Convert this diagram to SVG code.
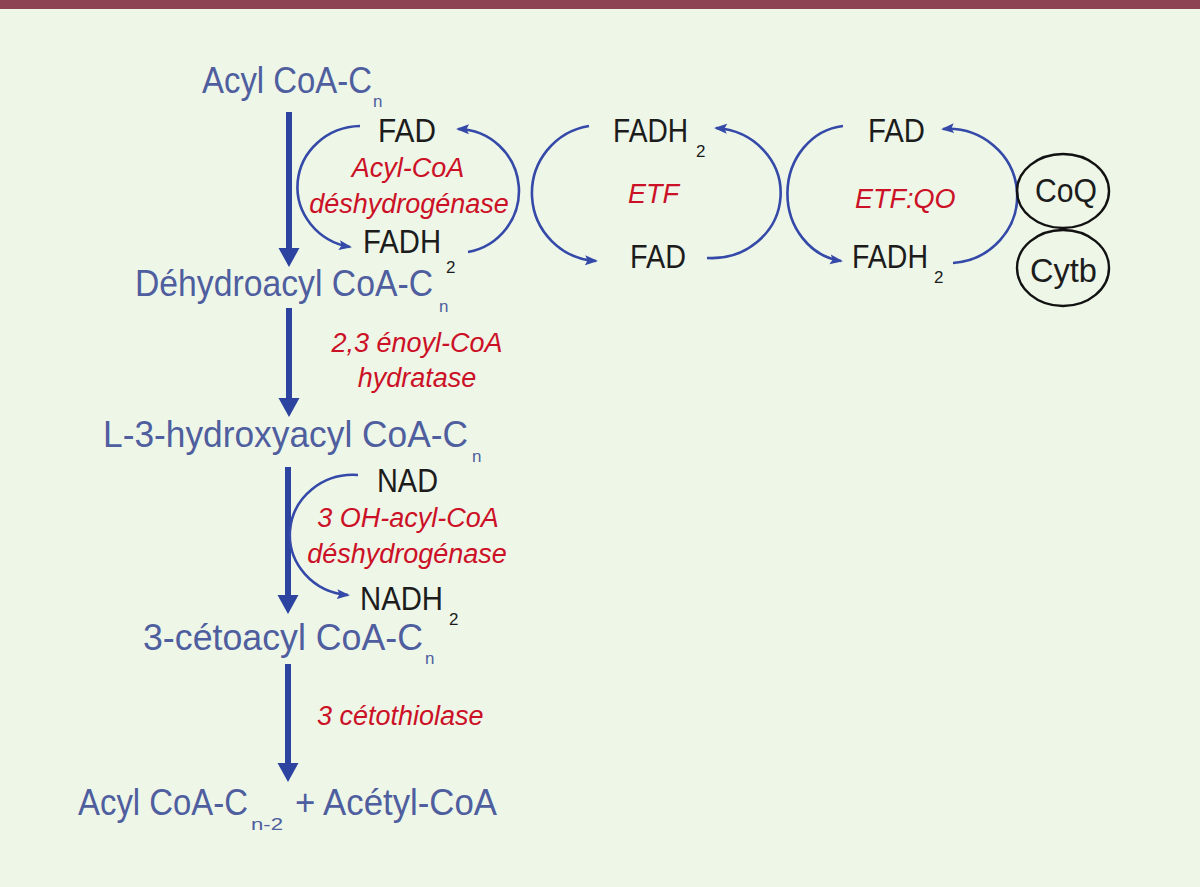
<svg xmlns="http://www.w3.org/2000/svg" width="1200" height="887" viewBox="0 0 1200 887">
<style>
.bl{font-family:"Liberation Sans",Arial,sans-serif;font-size:36px;fill:#4F5E9E}
.bk{font-family:"Liberation Sans",Arial,sans-serif;font-size:33px;fill:#1C1C1C}
.sub{font-size:17px}
.rd{font-family:"Liberation Sans",Arial,sans-serif;font-size:27px;font-style:italic;fill:#CC1126}
.main{stroke:#2C43A0;stroke-width:6;fill:none}
.cyc{stroke:#3449A8;stroke-width:2.6;fill:none}
.ell{stroke:#111;stroke-width:2.4;fill:none}
</style>
<defs>
<marker id="big" markerUnits="userSpaceOnUse" markerWidth="20" markerHeight="22" refX="0" refY="10.5" orient="auto" viewBox="0 0 20 21">
<path d="M0,0 L19,10.5 L0,21 z" fill="#2C43A0"/>
</marker>
<marker id="sm" markerUnits="userSpaceOnUse" markerWidth="14" markerHeight="12" refX="11" refY="5" orient="auto" viewBox="0 0 14 10">
<path d="M0,0 L13,5 L0,10 L2.5,5 z" fill="#3449A8"/>
</marker>
</defs>
<rect x="0" y="0" width="1200" height="887" fill="#EEF6E8"/>
<rect x="0" y="0" width="1200" height="9" fill="#8D4352"/>

<g id="connectors">
<line class="main" x1="289" y1="112" x2="289" y2="248" marker-end="url(#big)"/>
<line class="main" x1="289" y1="308" x2="289" y2="398" marker-end="url(#big)"/>
<line class="main" x1="288" y1="467" x2="288" y2="595" marker-end="url(#big)"/>
<line class="main" x1="288" y1="664" x2="288" y2="763" marker-end="url(#big)"/>
<path class="cyc" d="M360,126 A64,61 0 0 0 350,247" marker-end="url(#sm)"/>
<path class="cyc" d="M468,252 A62,62 0 0 0 458,129" marker-end="url(#sm)"/>
<path class="cyc" d="M589,126 A68,68 0 0 0 596,261" marker-end="url(#sm)"/>
<path class="cyc" d="M707,258 A69,65 0 0 0 716,128" marker-end="url(#sm)"/>
<path class="cyc" d="M843,126 A62,68 0 0 0 841,261" marker-end="url(#sm)"/>
<path class="cyc" d="M953,263 A69,67 0 0 0 943,129" marker-end="url(#sm)"/>
<path class="cyc" d="M358,475 A63,60 0 0 0 348,595" marker-end="url(#sm)"/>
</g>

<g id="acylcoa">
<text class="bl" x="202" y="93"><tspan textLength="170" lengthAdjust="spacingAndGlyphs">Acyl CoA-C</tspan><tspan class="sub" dx="1" dy="14">n</tspan></text>
</g>
<g id="dehydroacyl">
<text class="bl" x="135" y="296"><tspan textLength="298" lengthAdjust="spacingAndGlyphs">Déhydroacyl CoA-C</tspan><tspan class="sub" dx="6" dy="16">n</tspan></text>
</g>
<g id="hydroxyacyl">
<text class="bl" x="103" y="447"><tspan textLength="365" lengthAdjust="spacingAndGlyphs">L-3-hydroxyacyl CoA-C</tspan><tspan class="sub" dx="4" dy="15">n</tspan></text>
</g>
<g id="cetoacyl">
<text class="bl" x="143" y="650"><tspan textLength="280" lengthAdjust="spacingAndGlyphs">3-cétoacyl CoA-C</tspan><tspan class="sub" dx="2" dy="14">n</tspan></text>
</g>
<g id="products">
<text class="bl" x="78" y="815"><tspan textLength="170" lengthAdjust="spacingAndGlyphs">Acyl CoA-C</tspan><tspan class="sub" dx="3" dy="15" textLength="32" lengthAdjust="spacingAndGlyphs">n-2</tspan><tspan x="295" y="815" textLength="202" lengthAdjust="spacingAndGlyphs">+ Acétyl-CoA</tspan></text>
</g>

<g id="fad1"><text class="bk" x="378" y="142" textLength="58" lengthAdjust="spacingAndGlyphs">FAD</text></g>
<g id="fadh2-1"><text class="bk" x="363" y="253"><tspan textLength="78" lengthAdjust="spacingAndGlyphs">FADH</tspan><tspan class="sub" dx="5" dy="20">2</tspan></text></g>
<g id="enz1">
<text class="rd" x="408" y="177" text-anchor="middle">Acyl-CoA</text>
<text class="rd" x="409" y="213" text-anchor="middle">déshydrogénase</text>
</g>
<g id="enz2">
<text class="rd" x="417" y="352" text-anchor="middle">2,3 énoyl-CoA</text>
<text class="rd" x="417" y="387" text-anchor="middle">hydratase</text>
</g>
<g id="nad"><text class="bk" x="377" y="492" textLength="61" lengthAdjust="spacingAndGlyphs">NAD</text></g>
<g id="nadh2"><text class="bk" x="360" y="610"><tspan textLength="83" lengthAdjust="spacingAndGlyphs">NADH</tspan><tspan class="sub" dx="6" dy="15">2</tspan></text></g>
<g id="enz3">
<text class="rd" x="408" y="527" text-anchor="middle">3 OH-acyl-CoA</text>
<text class="rd" x="407" y="563" text-anchor="middle">déshydrogénase</text>
</g>
<g id="enz4"><text class="rd" x="317" y="725">3 cétothiolase</text></g>

<g id="etf-fadh2"><text class="bk" x="613" y="142"><tspan textLength="75" lengthAdjust="spacingAndGlyphs">FADH</tspan><tspan class="sub" dx="8" dy="15">2</tspan></text></g>
<g id="etf-label"><text class="rd" x="628" y="203">ETF</text></g>
<g id="etf-fad"><text class="bk" x="630" y="268" textLength="56" lengthAdjust="spacingAndGlyphs">FAD</text></g>
<g id="qo-fad"><text class="bk" x="868" y="142" textLength="57" lengthAdjust="spacingAndGlyphs">FAD</text></g>
<g id="qo-label"><text class="rd" x="855" y="208">ETF:QO</text></g>
<g id="qo-fadh2"><text class="bk" x="852" y="268"><tspan textLength="76" lengthAdjust="spacingAndGlyphs">FADH</tspan><tspan class="sub" dx="6" dy="15">2</tspan></text></g>

<g id="coq">
<ellipse class="ell" cx="1063" cy="191" rx="46" ry="37"/>
<text class="bk" x="1035" y="202" textLength="62" lengthAdjust="spacingAndGlyphs">CoQ</text>
</g>
<g id="cytb">
<ellipse class="ell" cx="1063" cy="268" rx="46" ry="38"/>
<text class="bk" x="1030" y="282" textLength="67" lengthAdjust="spacingAndGlyphs">Cytb</text>
</g>
</svg>
